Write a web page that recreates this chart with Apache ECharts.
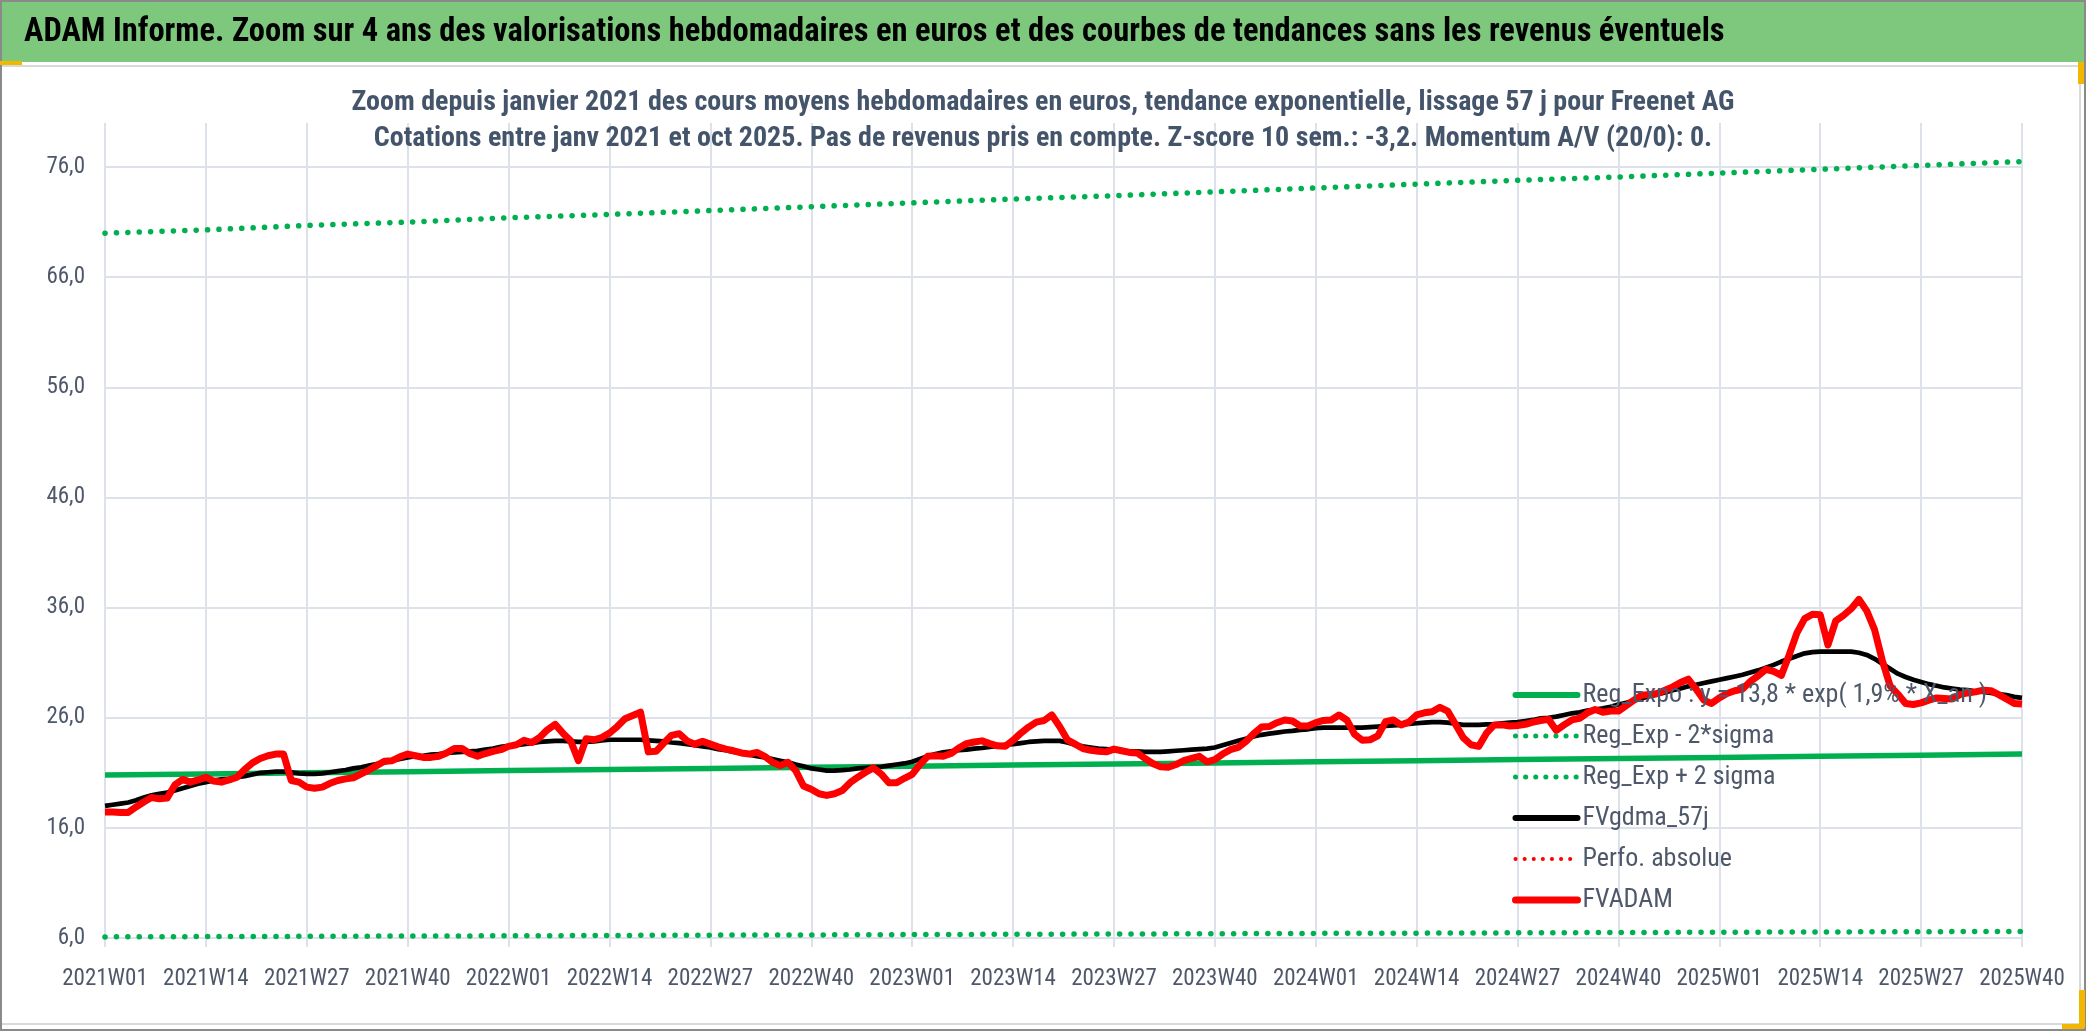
<!DOCTYPE html>
<html><head><meta charset="utf-8">
<script src="https://cdn.jsdelivr.net/npm/echarts@6/dist/echarts.min.js"></script>
<style>html,body{margin:0;padding:0;background:#fff;overflow:hidden}#c{width:2086px;height:1031px}</style>
</head><body><div id="c"></div>
<script>
// ---- data ----
const years = [2021, 2022, 2023, 2024, 2025];
const weeksInYear = [52, 52, 52, 52, 40];
const categories = [];
years.forEach((y, k) => { for (let w = 1; w <= weeksInYear[k]; w++) categories.push(y + 'W' + (w < 10 ? '0' + w : w)); });

const fvadam = [
17.45,17.45,17.4,17.4,17.9,18.35,18.75,18.65,18.7,19.9,
20.4,20.15,20.35,20.6,20.25,20.15,20.35,20.6,21.3,21.9,
22.3,22.55,22.7,22.7,20.3,20.15,19.7,19.6,19.7,20.05,
20.3,20.45,20.55,20.9,21.25,21.65,22.05,22.1,22.45,22.7,
22.55,22.4,22.4,22.5,22.8,23.2,23.2,22.75,22.5,22.75,
22.95,23.1,23.4,23.55,23.95,23.75,24.2,24.9,25.4,24.6,
23.9,22.1,24.1,24.0,24.2,24.6,25.2,25.9,26.2,26.5,
22.9,22.95,23.7,24.4,24.55,23.9,23.6,23.85,23.6,23.35,
23.15,23.0,22.8,22.7,22.85,22.5,21.95,21.65,21.95,21.2,
19.8,19.5,19.1,18.95,19.1,19.4,20.1,20.6,21.05,21.45,
20.9,20.1,20.1,20.5,20.85,21.75,22.5,22.55,22.5,22.75,
23.25,23.65,23.8,23.9,23.65,23.45,23.4,23.95,24.6,25.15,
25.6,25.75,26.25,25.2,24.0,23.6,23.2,23.05,22.95,22.9,
23.15,23.0,22.85,22.8,22.3,21.85,21.55,21.5,21.75,22.1,
22.3,22.5,22.0,22.2,22.7,23.1,23.3,23.85,24.55,25.15,
25.2,25.55,25.8,25.7,25.25,25.25,25.55,25.75,25.8,26.25,
25.8,24.5,23.95,24.0,24.35,25.65,25.8,25.35,25.6,26.25,
26.45,26.55,26.95,26.6,25.4,24.2,23.55,23.4,24.6,25.35,
25.35,25.25,25.3,25.4,25.6,25.75,25.85,24.85,25.35,25.8,
25.95,26.45,26.75,26.5,26.6,26.6,27.1,27.6,28.05,28.1,
28.2,28.5,28.8,29.2,29.5,28.6,27.6,27.3,27.8,28.2,
28.45,28.6,29.3,29.8,30.4,30.2,29.85,31.7,33.7,35.0,
35.4,35.35,32.6,34.8,35.3,35.9,36.75,35.7,34.0,31.2,
28.9,28.15,27.3,27.2,27.35,27.6,27.8,27.75,27.7,28.1,
28.25,28.35,28.5,28.45,28.1,27.7,27.3,27.25
];

const fvgdma57 = [
18.0,18.1,18.2,18.3,18.5,18.75,18.95,19.1,19.2,19.4,
19.6,19.8,20.0,20.15,20.3,20.4,20.45,20.6,20.7,20.85,
21.0,21.05,21.1,21.1,21.05,20.95,20.9,20.9,20.95,21.05,
21.15,21.25,21.4,21.5,21.65,21.8,21.95,22.1,22.25,22.4,
22.5,22.55,22.65,22.7,22.8,22.85,22.9,22.95,23.0,23.1,
23.2,23.35,23.45,23.5,23.6,23.7,23.8,23.85,23.9,23.9,
23.85,23.8,23.8,23.85,23.95,24.0,24.0,24.0,24.0,24.0,
23.95,23.9,23.85,23.75,23.7,23.6,23.5,23.4,23.3,23.15,
23.05,22.9,22.8,22.65,22.5,22.4,22.25,22.1,21.95,21.75,
21.6,21.4,21.3,21.2,21.2,21.25,21.3,21.4,21.45,21.5,
21.55,21.65,21.75,21.85,22.0,22.25,22.5,22.7,22.85,22.95,
23.05,23.1,23.2,23.25,23.35,23.45,23.55,23.6,23.7,23.8,
23.85,23.9,23.9,23.9,23.75,23.55,23.4,23.3,23.2,23.15,
23.05,23.0,22.95,22.95,22.9,22.9,22.9,22.95,23.0,23.05,
23.1,23.15,23.2,23.3,23.5,23.7,23.9,24.1,24.3,24.45,
24.55,24.65,24.75,24.8,24.9,24.95,25.05,25.1,25.1,25.1,
25.1,25.1,25.1,25.15,25.2,25.25,25.3,25.35,25.45,25.5,
25.55,25.6,25.6,25.55,25.45,25.35,25.35,25.35,25.4,25.4,
25.5,25.55,25.6,25.7,25.8,25.95,26.0,26.1,26.25,26.4,
26.5,26.65,26.75,26.85,27.0,27.2,27.35,27.55,27.75,27.95,
28.1,28.3,28.5,28.65,28.85,29.0,29.15,29.3,29.45,29.6,
29.75,29.9,30.1,30.3,30.55,30.8,31.1,31.35,31.6,31.85,
31.95,32.0,32.0,32.0,32.0,32.0,31.9,31.7,31.35,30.9,
30.45,30.0,29.7,29.45,29.25,29.05,28.9,28.75,28.65,28.55,
28.5,28.4,28.35,28.25,28.15,28.05,27.9,27.8
];

// values read at each labelled week (every 13 weeks, 2021W01 ... 2025W40)
const regExpo   = [20.8,20.9,21.0,21.1,21.2,21.3,21.4,21.5,21.6,21.7,21.8,21.9,22.0,22.1,22.2,22.3,22.4,22.5,22.6,22.7];
const regMinus2 = [6.10,6.13,6.15,6.18,6.20,6.23,6.26,6.28,6.31,6.34,6.36,6.39,6.42,6.44,6.47,6.50,6.52,6.55,6.57,6.60];
const regPlus2  = [70.0,70.3,70.7,71.0,71.4,71.7,72.05,72.4,72.75,73.1,73.4,73.75,74.1,74.45,74.8,75.1,75.45,75.8,76.15,76.5];
const perfoAbs  = [];
const tickStep = 13;

const seriesNames = ['Reg_Expo : y = 13,8 * exp( 1,9% * X_an )', 'Reg_Exp - 2*sigma', 'Reg_Exp + 2 sigma', 'FVgdma_57j', 'Perfo. absolue', 'FVADAM'];
const titleText = 'ADAM Informe. Zoom sur 4 ans des valorisations hebdomadaires en euros et des courbes de tendances sans les revenus éventuels';
const subText = 'Zoom depuis janvier 2021 des cours moyens hebdomadaires en euros, tendance exponentielle, lissage 57 j pour Freenet AG\nCotations entre janv 2021 et oct 2025. Pas de revenus pris en compte. Z-score 10 sem.: -3,2. Momentum A/V (20/0): 0.';

function sparse(vals) {
  const a = new Array(categories.length).fill(null);
  vals.forEach((v, k) => { a[k * tickStep] = v; });
  return a;
}

const FONT = "'Liberation Sans Narrow','Arial Narrow','Roboto Condensed','Liberation Sans',sans-serif";
const TXT = '#4f586a';
const GRID = '#dde2ea';
const GREEN = '#00b050';
const RED = '#ff0000';
const dot = [0.1, 11.3];

const legendItems = [
  {name: seriesNames[0], lineStyle: {color: GREEN, width: 6, type: 'solid', cap: 'round'}},
  {name: seriesNames[1], lineStyle: {color: GREEN, width: 5, type: [0.1, 10], cap: 'round'}},
  {name: seriesNames[2], lineStyle: {color: GREEN, width: 5, type: [0.1, 10], cap: 'round'}},
  {name: seriesNames[3], lineStyle: {color: '#000000', width: 6, type: 'solid', cap: 'round'}},
  {name: seriesNames[4], lineStyle: {color: RED, width: 4, type: [0.1, 9], cap: 'round'}},
  {name: seriesNames[5], lineStyle: {color: RED, width: 7, type: 'solid', cap: 'round'}}
];

const chart = echarts.init(document.getElementById('c'), null, {renderer: 'canvas'});
chart.setOption({
  animation: false,
  backgroundColor: '#ffffff',
  textStyle: {fontFamily: FONT},
  graphic: [
    {type: 'rect', z: -10, shape: {x: 0, y: 0, width: 2086, height: 62}, style: {fill: '#7ec87e'}},
    {type: 'rect', z: -9, shape: {x: 0, y: 66, width: 2080, height: 958}, style: {fill: 'none', stroke: '#d9d9d9', lineWidth: 2}},
    {type: 'rect', z: -8, shape: {x: 1, y: 1, width: 2084, height: 1029}, style: {fill: 'none', stroke: '#8a8a8a', lineWidth: 2}},
    {type: 'rect', z: -7, shape: {x: 0, y: 61, width: 22, height: 4}, style: {fill: '#f2b800'}},
    {type: 'rect', z: -7, shape: {x: 2078, y: 62, width: 6, height: 22}, style: {fill: '#f2b800'}},
    {type: 'rect', z: -7, shape: {x: 2079, y: 990, width: 6, height: 38}, style: {fill: '#f2b800'}},
    {type: 'rect', z: -7, shape: {x: 2062, y: 1024, width: 22, height: 5}, style: {fill: '#f2b800'}}
  ],
  title: [
    {text: titleText, left: 24, top: 16, padding: 0,
     textStyle: {fontFamily: FONT, fontSize: 32.5, fontWeight: 'bold', color: '#000000'}},
    {text: subText, left: 'center', top: 85, padding: 0,
     textStyle: {fontFamily: FONT, fontSize: 28, fontWeight: 'bold', color: '#44546a', lineHeight: 36, align: 'center'}}
  ],
  legend: {
    orient: 'vertical', left: 1512, top: 682, padding: 0,
    itemWidth: 62, itemHeight: 14, itemGap: 15, selectedMode: false,
    itemStyle: {opacity: 0},
    textStyle: {fontFamily: FONT, fontSize: 26, lineHeight: 26, color: TXT},
    data: legendItems
  },
  grid: {left: 105, right: 64, top: 123, bottom: 93, containLabel: false},
  xAxis: {
    type: 'category', data: categories, boundaryGap: false,
    axisLine: {show: false},
    axisTick: {show: true, interval: tickStep - 1, length: 9, lineStyle: {color: GRID, width: 2}},
    axisLabel: {interval: tickStep - 1, fontFamily: FONT, fontSize: 23, color: TXT, margin: 30},
    splitLine: {show: true, interval: tickStep - 1, lineStyle: {color: GRID, width: 2}}
  },
  yAxis: {
    type: 'value', min: 6, max: 80, interval: 10,
    axisLine: {show: false}, axisTick: {show: false},
    axisLabel: {fontFamily: FONT, fontSize: 23, color: TXT, margin: 20, showMaxLabel: false,
      formatter: v => v.toFixed(1).replace('.', ',')},
    splitLine: {show: true, lineStyle: {color: [GRID, GRID, GRID, GRID, GRID, GRID, GRID, GRID, 'rgba(0,0,0,0)'], width: 2}}
  },
  series: [
    {name: seriesNames[0], type: 'line', data: sparse(regExpo), connectNulls: true, symbol: 'none', color: GREEN,
     lineStyle: {color: GREEN, width: 5.5}},
    {name: seriesNames[1], type: 'line', data: sparse(regMinus2), connectNulls: true, symbol: 'none', color: GREEN,
     lineStyle: {color: GREEN, width: 5.5, type: dot, cap: 'round'}},
    {name: seriesNames[2], type: 'line', data: sparse(regPlus2), connectNulls: true, symbol: 'none', color: GREEN,
     lineStyle: {color: GREEN, width: 5.5, type: dot, cap: 'round'}},
    {name: seriesNames[3], type: 'line', data: fvgdma57, symbol: 'none', color: '#000000',
     lineStyle: {color: '#000000', width: 4.7}},
    {name: seriesNames[4], type: 'line', data: perfoAbs, symbol: 'none', color: RED,
     lineStyle: {color: RED, width: 4, type: [0.1, 10], cap: 'round'}},
    {name: seriesNames[5], type: 'line', data: fvadam, symbol: 'none', color: RED,
     lineStyle: {color: RED, width: 7, join: 'round'}}
  ]
});
</script></body></html>
